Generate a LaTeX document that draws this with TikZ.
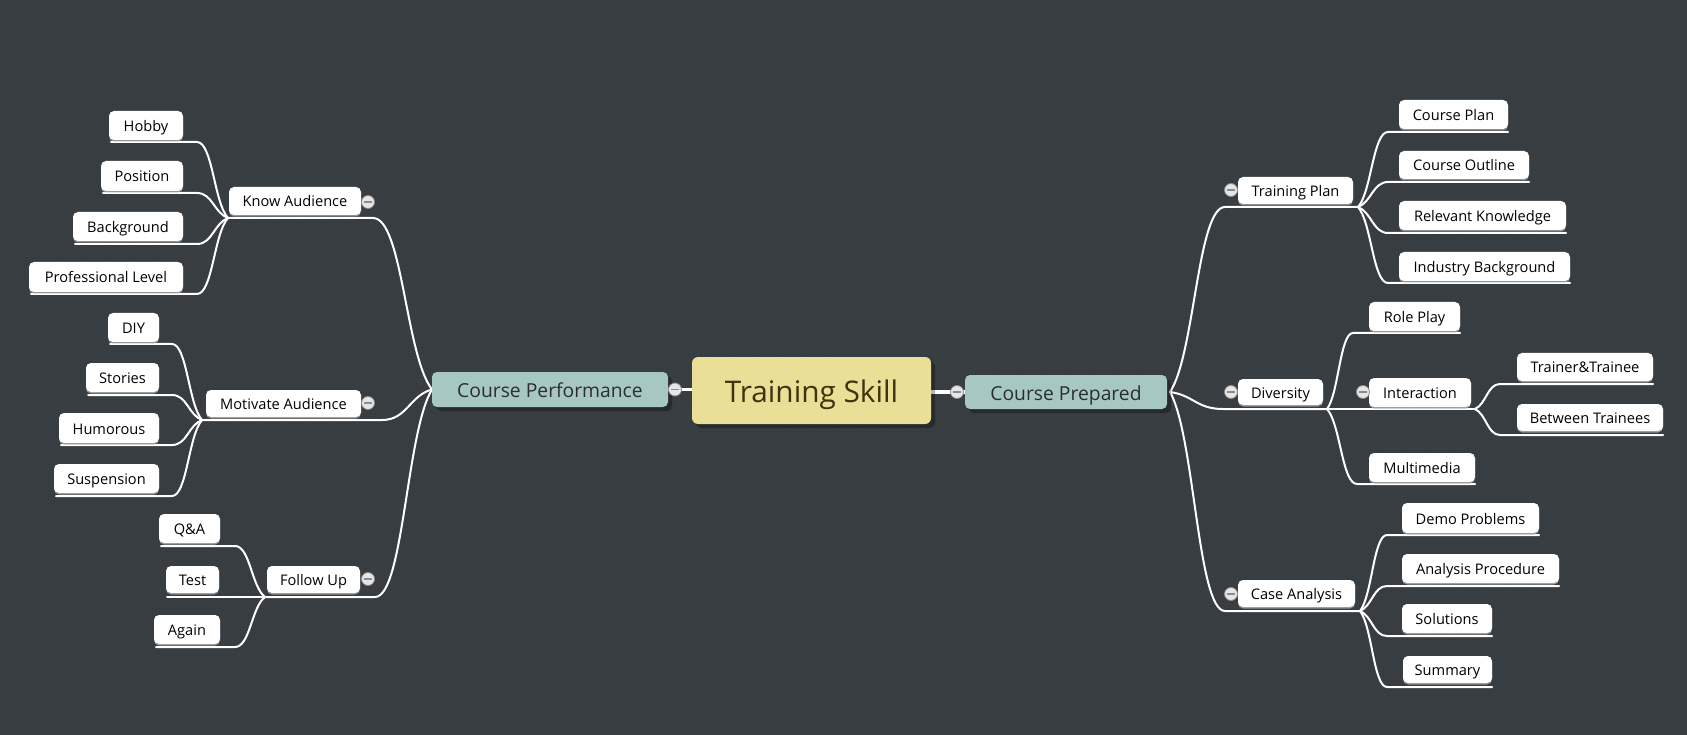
\documentclass[tikz,border=0pt]{standalone}
\usepackage{fontspec}
\setmainfont{Open Sans}
\usetikzlibrary{calc,shadows,patterns,backgrounds}
\definecolor{bgc}{HTML}{383E42}
\definecolor{dotc}{HTML}{2F3437}
\definecolor{tealc}{HTML}{A7C7C2}
\definecolor{yellc}{HTML}{E9DF97}
\definecolor{tstext}{HTML}{40330C}
\definecolor{toptext}{HTML}{2A2F31}
\definecolor{btnfill}{HTML}{E6E6E6}
\definecolor{btnline}{HTML}{8C8C8C}
\pgfdeclarelayer{conns}
\pgfsetlayers{background,conns,main}
\newcommand\boxnode[7]{\node[#1, anchor=north west, minimum width={#5-#3}, minimum height={#6-#4}] (#2) at (#3,#4) {#7};}
\newcommand\branchto[3]{\draw[conn] let \p1=(#1), \p2=(#2) in (\p1) .. controls (0.55*\x1+0.45*\x2, 0.8*\y1+0.2*\y2) and (0.5*\x1+0.5*\x2, \y2) .. (\p2) -- (#3);}
\tikzset{
  leafbox/.style={fill=white, rounded corners=5pt, inner sep=0pt, outer sep=0pt, font=\fontsize{14.6}{18}\selectfont, text=black, text height=14pt, text depth=2pt,
    drop shadow={shadow xshift=0pt, shadow yshift=-1.5pt, fill=gray!70, opacity=0.8}},
  topicbox/.style={fill=tealc, rounded corners=5pt, inner sep=0pt, outer sep=0pt, font=\fontsize{19.3}{24}\selectfont, text=toptext, text height=17pt, text depth=1pt,
    drop shadow={shadow xshift=4pt, shadow yshift=-4pt, fill=black, opacity=0.3}},
  rootbox/.style={fill=yellc, rounded corners=6pt, inner sep=0pt, outer sep=0pt, font=\fontsize{29.8}{36}\selectfont, text=tstext, text height=28pt, text depth=4pt,
    drop shadow={shadow xshift=4pt, shadow yshift=-4pt, fill=black, opacity=0.3}},
  minusbtn/.style={circle, fill=btnfill, draw=btnline, line width=0.8pt, minimum size=13pt, inner sep=0pt,
    path picture={\draw[btnline, line width=1.3pt] ([xshift=-4pt]path picture bounding box.center) -- ([xshift=4pt]path picture bounding box.center);}},
  conn/.style={draw=white, line width=2pt, line cap=round, line join=round},
  mainconn/.style={draw=white, line width=3.5pt}
}
\begin{document}
\begin{tikzpicture}[x=1pt,y=-1pt]
\begin{pgfonlayer}{background}
\fill[bgc] (0,0) rectangle (1687,735);
\fill[pattern=dots, pattern color=dotc] (0,0) rectangle (1687,735);
\end{pgfonlayer}
\useasboundingbox (0,0) rectangle (1687,735);

% ---------- coordinates ----------
\coordinate (cperf-j) at (432,389.5);
\coordinate (cprep-j) at (1170,392);
% left level 2
\coordinate (ka-s) at (373,218); \coordinate (ka-j) at (228,218);
\coordinate (ma-s) at (382,420); \coordinate (ma-j) at (202,420);
\coordinate (fu-s) at (375,597); \coordinate (fu-j) at (265,597);
% left leaves
\coordinate (hob-s) at (197,142); \coordinate (hob-e) at (111,142);
\coordinate (pos-s) at (197,193); \coordinate (pos-e) at (103,193);
\coordinate (bkg-s) at (197,244); \coordinate (bkg-e) at (75,244);
\coordinate (pro-s) at (197,294); \coordinate (pro-e) at (31,294);
\coordinate (diy-s) at (172,344); \coordinate (diy-e) at (110,344);
\coordinate (sto-s) at (172,395); \coordinate (sto-e) at (88,395);
\coordinate (hum-s) at (172,445); \coordinate (hum-e) at (61,445);
\coordinate (sus-s) at (172,496); \coordinate (sus-e) at (56,496);
\coordinate (qa-s) at (235,546); \coordinate (qa-e) at (161,546);
\coordinate (tst-e) at (167,597);
\coordinate (ag-s) at (235,647); \coordinate (ag-e) at (156,647);
% right level 2
\coordinate (tp-s) at (1225,207); \coordinate (tp-j) at (1358,207);
\coordinate (dv-s) at (1223,409); \coordinate (dv-j) at (1327,409);
\coordinate (ca-s) at (1225,611); \coordinate (ca-j) at (1360,611);
\coordinate (in-j) at (1475,409);
% right leaves
\coordinate (cpl-s) at (1388,132); \coordinate (cpl-e) at (1508,132);
\coordinate (cou-s) at (1388,182); \coordinate (cou-e) at (1529,182);
\coordinate (rk-s) at (1388,233); \coordinate (rk-e) at (1566,233);
\coordinate (ib-s) at (1388,283); \coordinate (ib-e) at (1570,283);
\coordinate (rp-s) at (1353,333); \coordinate (rp-e) at (1460,333);
\coordinate (mm-s) at (1357,484); \coordinate (mm-e) at (1475,484);
\coordinate (tt-s) at (1500,384); \coordinate (tt-e) at (1653,384);
\coordinate (bt-s) at (1500,435); \coordinate (bt-e) at (1663,435);
\coordinate (dp-s) at (1387,535); \coordinate (dp-e) at (1539,535);
\coordinate (ap-s) at (1387,586); \coordinate (ap-e) at (1559,586);
\coordinate (so-s) at (1387,636); \coordinate (so-e) at (1492,636);
\coordinate (su-s) at (1387,687); \coordinate (su-e) at (1492,687);

% ---------- nodes ----------
\boxnode{rootbox}{tskill}{692}{357}{931}{424}{Training Skill}
\boxnode{topicbox}{cperf}{432}{372}{668}{407}{Course Performance}
\boxnode{topicbox}{cprep}{965}{375}{1167}{409}{Course Prepared}

\boxnode{leafbox}{knowaud}{229}{187}{361}{215}{Know Audience}
\boxnode{leafbox}{motaud}{206}{390}{361}{417}{Motivate Audience}
\boxnode{leafbox}{follow}{267}{566}{360}{593}{Follow Up}
\boxnode{leafbox}{hobby}{109}{111}{183}{140}{Hobby}
\boxnode{leafbox}{position}{101}{161}{183}{191}{Position}
\boxnode{leafbox}{backgr}{73}{212}{183}{241}{Background}
\boxnode{leafbox}{proflev}{29}{262}{183}{292}{Professional Level}
\boxnode{leafbox}{diy}{108}{313}{159}{342}{DIY}
\boxnode{leafbox}{stories}{86}{363}{159}{392}{Stories}
\boxnode{leafbox}{humor}{59}{413}{159}{443}{Humorous}
\boxnode{leafbox}{susp}{54}{464}{159}{493}{Suspension}
\boxnode{leafbox}{qanda}{159}{514}{220}{543}{Q\&A}
\boxnode{leafbox}{test}{166}{566}{219}{593}{Test}
\boxnode{leafbox}{again}{154}{615}{220}{644}{Again}

\boxnode{leafbox}{tplan}{1238}{177}{1353}{204}{Training Plan}
\boxnode{leafbox}{divers}{1238}{379}{1323}{405}{Diversity}
\boxnode{leafbox}{casean}{1238}{580}{1355}{607}{Case Analysis}
\boxnode{leafbox}{cplan}{1399}{100}{1508}{129}{Course Plan}
\boxnode{leafbox}{coutl}{1399}{151}{1529}{179}{Course Outline}
\boxnode{leafbox}{relk}{1399}{201}{1566}{230}{Relevant Knowledge}
\boxnode{leafbox}{indb}{1399}{252}{1570}{281}{Industry Background}
\boxnode{leafbox}{rolep}{1369}{302}{1460}{331}{Role Play}
\boxnode{leafbox}{inter}{1369}{378}{1471}{407}{Interaction}
\boxnode{leafbox}{multi}{1369}{453}{1475}{482}{Multimedia}
\boxnode{leafbox}{trtr}{1517}{353}{1653}{381}{Trainer\&Trainee}
\boxnode{leafbox}{betw}{1517}{404}{1663}{431}{Between Trainees}
\boxnode{leafbox}{demo}{1402}{503}{1539}{533}{Demo Problems}
\boxnode{leafbox}{anap}{1402}{554}{1559}{583}{Analysis Procedure}
\boxnode{leafbox}{solu}{1402}{604}{1492}{633}{Solutions}
\boxnode{leafbox}{summ}{1403}{656}{1492}{683}{Summary}

% ---------- connectors ----------
\begin{pgfonlayer}{conns}
\draw[mainconn] (cperf.east) -- (cperf.east -| tskill.west);
\draw[mainconn] (tskill.east |- cprep.west) -- (cprep.west);
\branchto{cperf-j}{ka-s}{ka-j}
\branchto{cperf-j}{ma-s}{ma-j}
\branchto{cperf-j}{fu-s}{fu-j}
\branchto{ka-j}{hob-s}{hob-e}
\branchto{ka-j}{pos-s}{pos-e}
\branchto{ka-j}{bkg-s}{bkg-e}
\branchto{ka-j}{pro-s}{pro-e}
\branchto{ma-j}{diy-s}{diy-e}
\branchto{ma-j}{sto-s}{sto-e}
\branchto{ma-j}{hum-s}{hum-e}
\branchto{ma-j}{sus-s}{sus-e}
\branchto{fu-j}{qa-s}{qa-e}
\draw[conn] (fu-j) -- (tst-e);
\branchto{fu-j}{ag-s}{ag-e}
\branchto{cprep-j}{tp-s}{tp-j}
\branchto{cprep-j}{dv-s}{dv-j}
\branchto{cprep-j}{ca-s}{ca-j}
\branchto{tp-j}{cpl-s}{cpl-e}
\branchto{tp-j}{cou-s}{cou-e}
\branchto{tp-j}{rk-s}{rk-e}
\branchto{tp-j}{ib-s}{ib-e}
\branchto{dv-j}{rp-s}{rp-e}
\draw[conn] (dv-j) -- (in-j);
\branchto{dv-j}{mm-s}{mm-e}
\branchto{in-j}{tt-s}{tt-e}
\branchto{in-j}{bt-s}{bt-e}
\branchto{ca-j}{dp-s}{dp-e}
\branchto{ca-j}{ap-s}{ap-e}
\branchto{ca-j}{so-s}{so-e}
\branchto{ca-j}{su-s}{su-e}
\end{pgfonlayer}

% ---------- collapse buttons ----------
\node[minusbtn] (b-cperf) at (675,389.5) {};
\node[minusbtn] (b-cprep) at (957,392) {};
\node[minusbtn] (b-ka) at (368,202) {};
\node[minusbtn] (b-ma) at (368,403) {};
\node[minusbtn] (b-fu) at (368,579) {};
\node[minusbtn] (b-tp) at (1231,190) {};
\node[minusbtn] (b-dv) at (1231,392) {};
\node[minusbtn] (b-in) at (1363,392) {};
\node[minusbtn] (b-ca) at (1231,594) {};
\end{tikzpicture}
\end{document}
